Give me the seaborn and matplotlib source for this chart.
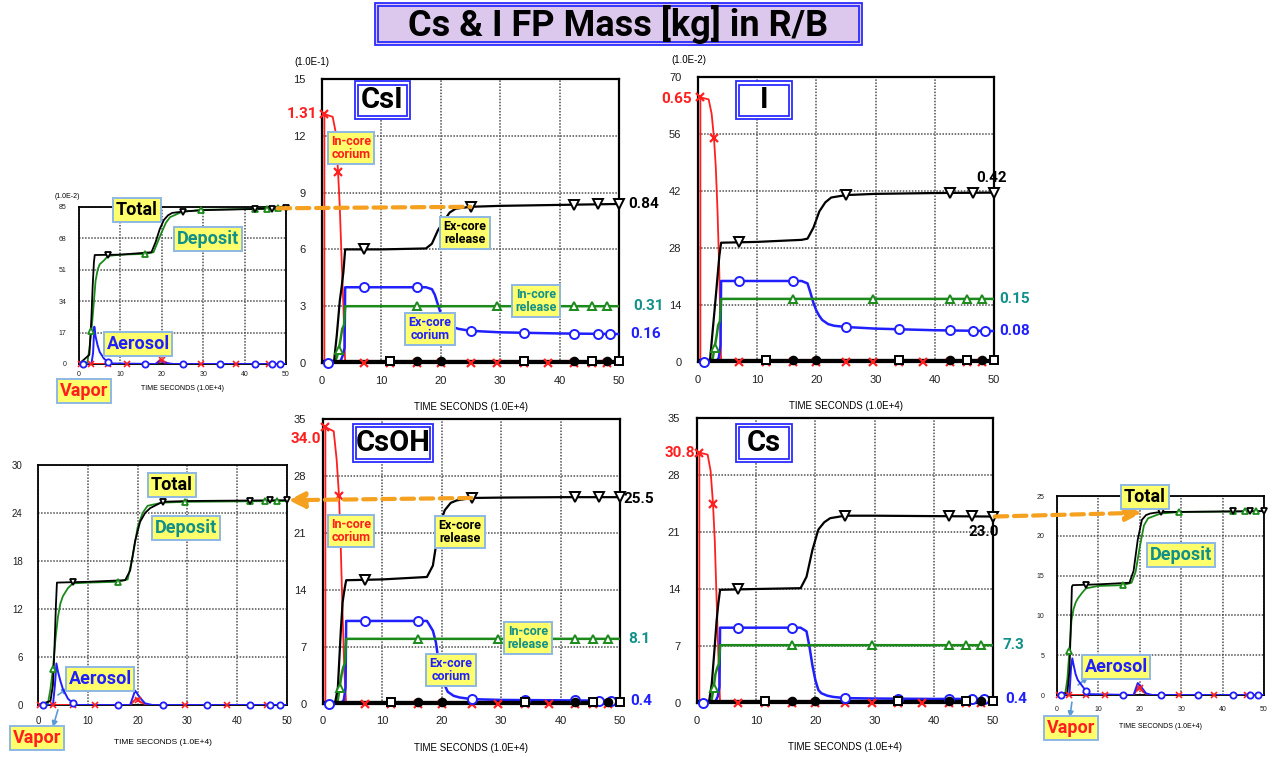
import matplotlib.pyplot as plt
import numpy as np
import seaborn as sns
from matplotlib.patches import ConnectionPatch, Rectangle

sns.set_style("white")
plt.rcParams["font.family"] = ["Liberation Sans", "DejaVu Sans"]
plt.rcParams["text.color"] = "black"
plt.rcParams["xtick.color"] = "#202020"
plt.rcParams["ytick.color"] = "#202020"
BOLD_FONT = ["Roboto", "DejaVu Sans"]

W, H = 1274, 757
RED = "#ff1f1f"
BLUE = "#1f1fff"
GREEN = "#1b8a1b"
TEAL = "#11908a"
ORANGE = "#f5a01e"
YELLOW = "#ffff6b"
EDGE = "#8db8e3"
FRAME_BLUE = "#2b2bff"

XTICKS = [0, 10, 20, 30, 40, 50]

# ---- main plots: time in 1.0E+4 s ----
T_TOTAL = [0, 2.0, 2.5, 3.0, 3.3, 3.6, 3.9, 10, 17.5, 18.5, 19.5, 20.5, 21.5, 22.5, 25, 30, 40, 50]
T_INREL = [0, 2.0, 2.5, 2.8, 3.1, 3.4, 3.7, 3.9, 50]
T_EXCOR = [0, 1.0, 3.0, 3.5, 3.8, 3.9, 17.5, 18.5, 19.0, 19.5, 20.0, 20.5, 21.0, 22.0, 23.0, 25.0, 30, 40, 50]
T_INCOR = [0.4, 0.4, 1.8, 2.3, 2.7, 3.0, 3.3, 3.6, 3.9, 50]
T_BASE = [0, 50]

# CsI (1.0E-1 kg)
CSI_TOTAL = [0, 0, 1.5, 3.3, 4.0, 4.8, 6.0, 6.0, 6.05, 6.3, 7.0, 7.5, 7.95, 8.15, 8.25, 8.3, 8.35, 8.4]
CSI_INREL = [0, 0, 0.3, 0.7, 1.2, 1.8, 2.0, 3.0, 3.0]
CSI_EXCOR = [0, 0, 0, 0.4, 0.8, 4.0, 4.0, 3.9, 3.6, 3.1, 2.6, 2.3, 2.1, 1.9, 1.8, 1.7, 1.62, 1.56, 1.53]
CSI_INCOR = [0, 13.15, 13.0, 12.2, 10.1, 8.2, 5.5, 3.0, 0, 0]
CSI_BASE = [0.08, 0.08]

# I (1.0E-2 kg)
I_TOTAL = [0, 0, 8, 16, 21, 26, 29.3, 29.5, 30.0, 30.3, 33, 37, 39.2, 40.4, 41.0, 41.3, 41.5, 41.6]
I_INREL = [0, 0, 1, 3.5, 6, 9, 10, 15.5, 15.5]
I_EXCOR = [0, 0, 0, 1, 4, 19.9, 19.9, 19.3, 17, 14.5, 12.6, 11.3, 10.3, 9.3, 8.9, 8.6, 8.2, 7.8, 7.6]
I_INCOR = [0, 65, 64.5, 61, 55, 48, 37, 22, 0, 0]
I_BASE = [0.4, 0.4]

# CsOH (kg)
CSOH_TOTAL = [0, 0, 2, 9, 12.5, 14, 15.2, 15.3, 15.6, 17.0, 21.7, 23.8, 24.7, 25.0, 25.3, 25.35, 25.4, 25.4]
CSOH_INREL = [0, 0, 0.5, 2.0, 3.5, 4.5, 5.0, 8.0, 8.0]
CSOH_EXCOR = [0, 0, 0, 0.5, 2, 10.2, 10.2, 9.0, 7.6, 5.0, 3.4, 2.3, 1.5, 1.0, 0.8, 0.6, 0.5, 0.45, 0.4]
CSOH_INCOR = [0, 34.0, 33.5, 30, 25.5, 19, 11, 4, 0, 0]
CSOH_BASE = [0.2, 0.2]

# Cs (kg)
CS_TOTAL = [0, 0, 2.4, 7, 10, 12.2, 13.9, 14.0, 14.1, 15.5, 18.8, 21.3, 22.2, 22.7, 23.0, 23.0, 22.95, 22.9]
CS_INREL = [0, 0, 0.5, 1.8, 3.5, 4.3, 4.8, 7.1, 7.1]
CS_EXCOR = [0, 0, 0, 0.8, 2, 9.25, 9.25, 8.8, 6.9, 4.6, 2.8, 1.6, 1.2, 0.9, 0.75, 0.6, 0.55, 0.5, 0.5]
CS_INCOR = [0, 30.75, 30.5, 28.5, 24.5, 20, 13, 6, 0, 0]
CS_BASE = [0.2, 0.2]

TOT_MARKS = [7, 25, 42.5, 46.5, 50]
INREL_MARKS = [2.8, 16, 29.5, 42.5, 45.5, 48]
EXCOR_MARKS = [1, 7, 16, 25, 34, 42.5, 46.5, 48.5]
INCOR_MARKS = [2.7, 7, 11.5, 16, 20, 25, 29.5, 34, 38, 42.5, 45.5, 48]
BASE_SQ = [11.5, 34, 45.5, 50]
BASE_DOT = [16, 20, 42.5, 48]

# ---- small R/B plots ----
T_S_TOTAL = [0, 2.5, 3.0, 3.3, 3.6, 3.8, 10, 17.5, 18.5, 19.5, 20.5, 21.5, 22.5, 25, 30, 50]
T_S_DEP = [0, 2.0, 2.5, 3.0, 3.5, 4.0, 4.5, 5.0, 6.0, 7.0, 10, 16, 18, 19, 20, 21, 22, 25, 30, 50]
T_S_AER = [0, 3.0, 3.4, 3.7, 4.0, 4.5, 5.0, 6.0, 7.0, 8.0, 18.5, 19.5, 20.5, 21.5, 23.0, 50]
T_S_VAP = [0, 18.5, 19.7, 20.8, 22.0, 50]

CSI_S_TOTAL = [0, 5, 25, 42, 55, 59, 59.2, 60.5, 66, 73, 78, 80.5, 81.8, 82.5, 83.3, 84.3]
CSI_S_DEP = [0, 0.5, 8, 18, 31, 45, 51, 54, 56, 58.5, 59.2, 59.6, 60.5, 66, 71.5, 76.5, 79.5, 82.5, 83.5, 84.3]
CSI_S_AER = [0, 0, 6, 20.2, 15, 10, 6.5, 3, 1, 0.3, 0, 1.5, 1.0, 0.3, 0, 0]
CSI_S_VAP = [0, 0, 2.5, 1.0, 0, 0]

CSOH_S_TOTAL = [0, 0.5, 2.5, 7, 12.5, 15.3, 15.4, 15.6, 16.8, 20.5, 22.9, 24.0, 24.6, 25.4, 25.5, 25.6]
CSOH_S_DEP = [0, 0.2, 2.0, 4.5, 8.2, 11, 12.7, 13.6, 14.6, 15.2, 15.3, 15.4, 15.7, 18.5, 22.2, 24.0, 24.9, 25.3, 25.4, 25.5]
CSOH_S_AER = [0, 0, 2.5, 5.2, 4.2, 3.0, 2.0, 0.8, 0.2, 0, 0, 1.8, 0.9, 0.2, 0, 0]
CSOH_S_VAP = [0, 0, 0.8, 0.3, 0, 0]

CS_S_TOTAL = [0, 0.3, 3, 8, 13.6, 13.8, 13.9, 14.1, 15.6, 19.5, 22.0, 22.6, 22.8, 23.0, 23.0, 23.1]
CS_S_DEP = [0, 0.2, 2.0, 5.5, 9.4, 10.8, 11.6, 12.1, 12.8, 13.4, 13.7, 13.8, 14.1, 15.5, 18.6, 21.3, 22.2, 22.8, 23.0, 23.1]
CS_S_AER = [0, 0, 3.5, 4.6, 3.8, 2.6, 1.9, 1.2, 0.5, 0.1, 0, 1.5, 0.9, 0.2, 0, 0]
CS_S_VAP = [0, 0, 1.0, 0.4, 0, 0]

S_TOT_MARKS = [7, 25, 42.5, 46.5, 50]
S_DEP_MARKS = [3, 16, 29.5, 42.5, 45.5, 48]
S_AER_MARKS = [1, 7, 16, 25, 34, 42.5, 46.5, 48.5]
S_VAP_MARKS = [0.5, 3, 7, 11.5, 20, 29.5, 38, 46]

fig = plt.figure(figsize=(W / 100, H / 100), dpi=100)


def add_axes(left, top, right, bottom):
    return fig.add_axes([left / W, 1 - bottom / H, (right - left) / W, (bottom - top) / H])


def frame(ax, ymax, ystep, fs, padx, pady, lw=1.6):
    ax.set_xlim(0, 50)
    ax.set_ylim(0, ymax)
    ax.set_xticks(XTICKS)
    yt = list(range(0, ymax + 1, ystep))
    ax.set_yticks(yt)
    ax.set_yticklabels([str(v) for v in yt])
    ax.grid(True, ls=(0, (1, 1)), color="#505050", lw=1.1)
    ax.set_axisbelow(True)
    ax.tick_params(axis="x", length=0, labelsize=fs, pad=padx)
    ax.tick_params(axis="y", length=0, labelsize=fs, pad=pady)
    for s in ax.spines.values():
        s.set_visible(True)
        s.set_color("black")
        s.set_linewidth(lw)
    ax.set_xlabel("")
    ax.set_ylabel("")


def line(ax, t, v, color, lw, z):
    sns.lineplot(x=t, y=v, ax=ax, color=color, lw=lw, estimator=None, sort=False,
                 legend=False, zorder=z)


def marks(ax, t, v, times, marker, color, ms, filled=False, mew=1.4):
    ax.plot(times, np.interp(times, t, v), ls="none", marker=marker, ms=ms,
            mfc=color if filled else "white", mec=color, mew=mew, zorder=7, clip_on=False)


def xlabel(ax, dy, fs):
    ax.annotate("TIME SECONDS (1.0E+4)", xy=(0.5, 0), xycoords="axes fraction", xytext=(0, dy),
                textcoords="offset pixels", ha="center", va="center", fontsize=fs)


def unit(ax, text, dx, dy, fs):
    ax.annotate(text, xy=(0, 1), xycoords="axes fraction", xytext=(dx, dy),
                textcoords="offset pixels", ha="center", va="center", fontsize=fs)


def value(ax, text, x, y, dx, dy, color, ha="left"):
    ax.annotate(text, xy=(x, y), xytext=(dx, dy), textcoords="offset pixels", ha=ha, va="center",
                color=color, fontsize=11, fontweight="bold", family=BOLD_FONT, annotation_clip=False)


def draw_main(ax, total, inrel, excor, incor, base, ymax, ystep):
    line(ax, T_INCOR, incor, RED, 1.3, 3)
    line(ax, T_EXCOR, excor, BLUE, 1.8, 4)
    line(ax, T_INREL, inrel, GREEN, 1.8, 4)
    line(ax, T_TOTAL, total, "black", 1.6, 5)
    line(ax, T_BASE, base, "black", 2.4, 5)
    ax.plot([T_INCOR[1]], [incor[1]], ls="none", marker="x", ms=5.5, mec=RED, mew=1.6, zorder=7, clip_on=False)
    marks(ax, T_INCOR, incor, INCOR_MARKS, "x", RED, 5.5, mew=1.6)
    marks(ax, T_EXCOR, excor, EXCOR_MARKS, "o", BLUE, 6.5)
    marks(ax, T_INREL, inrel, INREL_MARKS, "^", GREEN, 6)
    marks(ax, T_TOTAL, total, TOT_MARKS, "v", "black", 6.5)
    marks(ax, T_BASE, base, BASE_SQ, "s", "black", 6)
    marks(ax, T_BASE, base, BASE_DOT, "o", "black", 5.5, filled=True)
    frame(ax, ymax, ystep, 8, 9, 12)
    xlabel(ax, -44, 7)


def draw_small(ax, total, dep, aer, vap, ymax, ystep, fs, padx, pady, xl_dy, xl_fs):
    line(ax, T_S_VAP, vap, RED, 1.4, 3)
    line(ax, T_S_AER, aer, BLUE, 1.4, 4)
    line(ax, T_S_DEP, dep, GREEN, 1.3, 4)
    line(ax, T_S_TOTAL, total, "black", 1.3, 5)
    marks(ax, T_S_VAP, vap, S_VAP_MARKS, "x", RED, 4, mew=1.2)
    marks(ax, T_S_AER, aer, S_AER_MARKS, "o", BLUE, 4.5, mew=1.3)
    marks(ax, T_S_DEP, dep, S_DEP_MARKS, "^", GREEN, 4.5, mew=1.3)
    marks(ax, T_S_TOTAL, total, S_TOT_MARKS, "v", "black", 4.5, mew=1.3)
    frame(ax, ymax, ystep, fs, padx, pady, lw=1.3)
    xlabel(ax, xl_dy, xl_fs)


def ybox(cx, cy, text, fs, color, pad=0.25):
    fig.text(cx / W, 1 - cy / H, text, ha="center", va="center", fontsize=fs, fontweight="bold",
             color=color, family=BOLD_FONT, linespacing=1.05, zorder=8,
             bbox=dict(boxstyle=f"square,pad={pad}", fc=YELLOW, ec=EDGE, lw=1.4))


def double_box(cx, cy, w, h, text, fs, fc="white"):
    x0, y1 = cx - w / 2, cy + h / 2
    fig.add_artist(Rectangle((x0 / W, 1 - y1 / H), w / W, h / H, transform=fig.transFigure,
                             fc=fc, ec=FRAME_BLUE, lw=1.3, zorder=8))
    fig.add_artist(Rectangle(((x0 + 3) / W, 1 - (y1 - 3) / H), (w - 6) / W, (h - 6) / H,
                             transform=fig.transFigure, fill=False, ec=FRAME_BLUE, lw=1.3, zorder=8))
    fig.text(cx / W, 1 - cy / H, text, ha="center", va="center", fontsize=fs, fontweight="bold",
             family=BOLD_FONT, color="black", zorder=9)


ax_csi = add_axes(322, 79, 619, 363)
ax_i = add_axes(698, 77, 994, 362)
ax_csoh = add_axes(323, 419, 620, 704)
ax_cs = add_axes(697, 418, 993, 703)
ax_csi_s = add_axes(79, 207, 286, 364)
ax_csoh_s = add_axes(38, 465, 287, 705)
ax_cs_s = add_axes(1057, 496, 1264, 695)

draw_main(ax_csi, CSI_TOTAL, CSI_INREL, CSI_EXCOR, CSI_INCOR, CSI_BASE, 15, 3)
draw_main(ax_i, I_TOTAL, I_INREL, I_EXCOR, I_INCOR, I_BASE, 70, 14)
draw_main(ax_csoh, CSOH_TOTAL, CSOH_INREL, CSOH_EXCOR, CSOH_INCOR, CSOH_BASE, 35, 7)
draw_main(ax_cs, CS_TOTAL, CS_INREL, CS_EXCOR, CS_INCOR, CS_BASE, 35, 7)
unit(ax_csi, "(1.0E-1)", -10, 17, 7)
unit(ax_i, "(1.0E-2)", -9, 17, 7)

draw_small(ax_csi_s, CSI_S_TOTAL, CSI_S_DEP, CSI_S_AER, CSI_S_VAP, 85, 17, 5, 5, 9, -25, 5)
draw_small(ax_csoh_s, CSOH_S_TOTAL, CSOH_S_DEP, CSOH_S_AER, CSOH_S_VAP, 30, 6, 7, 8, 11, -37, 6)
draw_small(ax_cs_s, CS_S_TOTAL, CS_S_DEP, CS_S_AER, CS_S_VAP, 25, 5, 5, 8, 9, -32, 5)
unit(ax_csi_s, "(1.0E-2)", -12, 10, 5)

# end values
value(ax_csi, "1.31", T_INCOR[1], CSI_INCOR[1], -7, 0, RED, "right")
value(ax_csi, "0.84", 50, CSI_TOTAL[-1], 9, 0, "black")
value(ax_csi, "0.31", 50, CSI_INREL[-1], 14, 0, TEAL)
value(ax_csi, "0.16", 50, CSI_EXCOR[-1], 11, 0, BLUE)
value(ax_i, "0.65", T_INCOR[1], I_INCOR[1], -8, -2, RED, "right")
value(ax_i, "0.42", 50, I_TOTAL[-1], -2, 15, "black", "center")
value(ax_i, "0.15", 50, I_INREL[-1], 5, 0, TEAL)
value(ax_i, "0.08", 50, I_EXCOR[-1], 5, 0, BLUE)
value(ax_csoh, "34.0", T_INCOR[1], CSOH_INCOR[1], -4, -12, RED, "right")
value(ax_csoh, "25.5", 50, CSOH_TOTAL[-1], 4, -2, "black")
value(ax_csoh, "8.1", 50, CSOH_INREL[-1], 8, 0, TEAL)
value(ax_csoh, "0.4", 50, CSOH_EXCOR[-1], 10, 0, BLUE)
value(ax_cs, "30.8", T_INCOR[1], CS_INCOR[1], -4, 0, RED, "right")
value(ax_cs, "23.0", 50, CS_TOTAL[-1], -9, -15, "black", "center")
value(ax_cs, "7.3", 50, CS_INREL[-1], 10, 0, TEAL)
value(ax_cs, "0.4", 50, CS_EXCOR[-1], 12, 0, BLUE)

# orange links between R/B totals
link_kw = dict(ls=(0, (3, 1.6)), lw=3, color=ORANGE, shrinkA=0, shrinkB=0, zorder=7)
fig.add_artist(ConnectionPatch(xyA=(48, CSI_S_TOTAL[-1]), coordsA=ax_csi_s.transData,
                               xyB=(25, np.interp(25, T_TOTAL, CSI_TOTAL)), coordsB=ax_csi.transData,
                               arrowstyle="-", **link_kw))
fig.add_artist(ConnectionPatch(xyA=(25, np.interp(25, T_TOTAL, CSOH_TOTAL)), coordsA=ax_csoh.transData,
                               xyB=(50.3, CSOH_S_TOTAL[-1]), coordsB=ax_csoh_s.transData,
                               arrowstyle="-|>", mutation_scale=24, **link_kw))
fig.add_artist(ConnectionPatch(xyA=(50.3, CS_TOTAL[-1]), coordsA=ax_cs.transData,
                               xyB=(20.5, CS_TOTAL[-1]), coordsB=ax_cs_s.transData,
                               arrowstyle="-|>", mutation_scale=24, **link_kw))

# thin pointer arrows in the small plots
arrow_kw = dict(arrowstyle="-|>", color="#5b9bd5", lw=1.2, mutation_scale=8, shrinkA=0, shrinkB=0)
for ax, tail, head in [(ax_csoh_s, (4.0, 1.25), (6.0, 2.1)), (ax_csoh_s, (4.0, -0.6), (3.0, -2.75)),
                       (ax_cs_s, (5.1, 1.26), (7.5, 2.26)), (ax_cs_s, (3.6, -0.9), (3.1, -2.8))]:
    ax.annotate("", xy=head, xytext=tail, arrowprops=arrow_kw, annotation_clip=False)

# labels inside the main plots
ybox(351, 148, "In-core\ncorium", 9, RED)
ybox(465, 233, "Ex-core\nrelease", 9, "black")
ybox(536, 301, "In-core\nrelease", 9, TEAL)
ybox(430, 329, "Ex-core\ncorium", 9, BLUE)
ybox(351, 531, "In-core\ncorium", 9, RED)
ybox(460, 532, "Ex-core\nrelease", 9, "black")
ybox(528, 638, "In-core\nrelease", 9, TEAL)
ybox(451, 670, "Ex-core\ncorium", 9, BLUE)

# labels of the small plots
for (tx, ty), (dx, dy), (ax_, ay), (vx, vy) in [
    ((137, 210), (208, 239), (138, 344), (84, 391)),
    ((172, 485), (186, 528), (100, 679), (37, 738)),
    ((1145, 497), (1181, 555), (1116, 667), (1071, 728)),
]:
    ybox(tx, ty, "Total", 13, "black", 0.15)
    ybox(dx, dy, "Deposit", 13, TEAL, 0.15)
    ybox(ax_, ay, "Aerosol", 13, BLUE, 0.15)
    ybox(vx, vy, "Vapor", 13, RED, 0.15)

double_box(382, 100, 55, 37, "CsI", 21)
double_box(764, 100, 56, 37, "I", 21)
double_box(393, 443, 80, 38, "CsOH", 21)
double_box(764, 443, 56, 38, "Cs", 21)
double_box(618.5, 24, 487, 42, "Cs & I FP Mass [kg] in R/B", 26, fc="#dcc8ec")

fig.savefig("out.png", dpi=100)
plt.close(fig)
